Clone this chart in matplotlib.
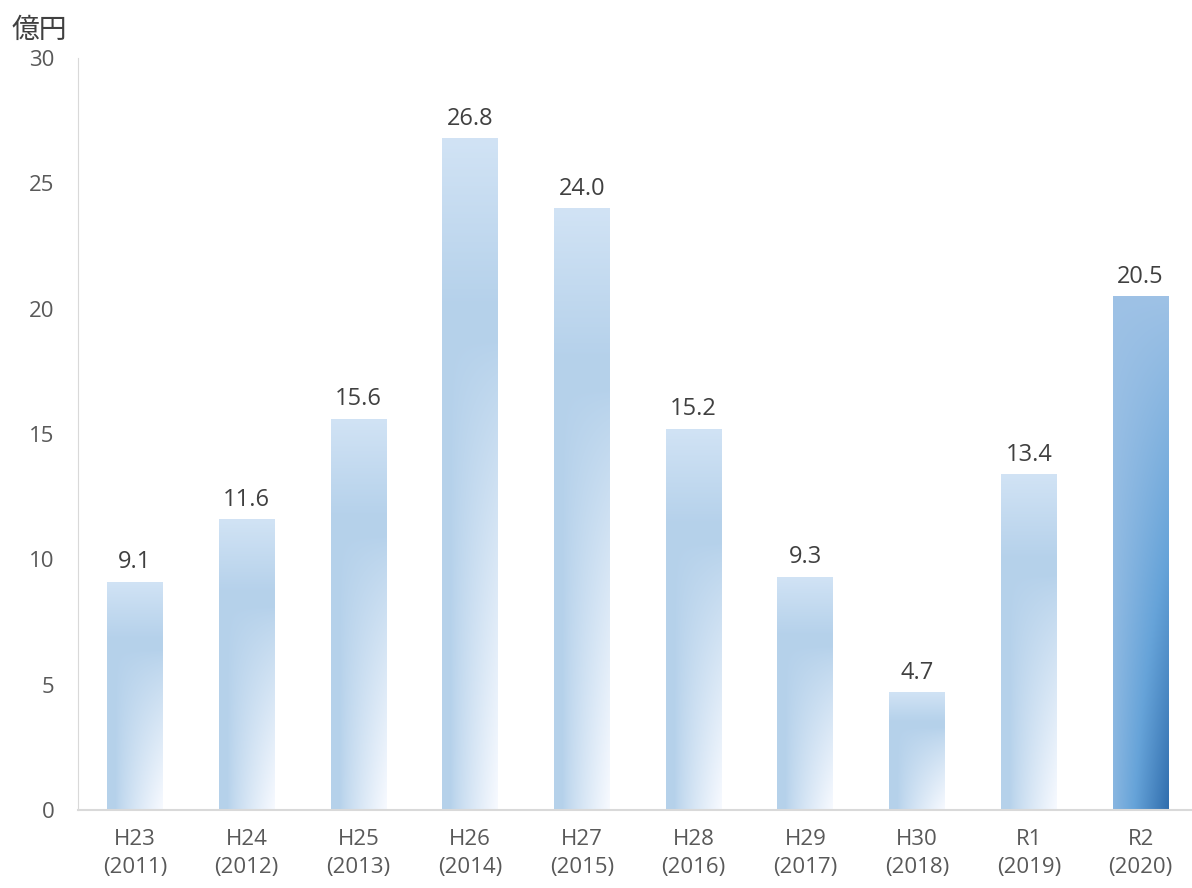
import numpy as np
import matplotlib
matplotlib.use('Agg')
import matplotlib.pyplot as plt
from matplotlib.patches import Rectangle

plt.rcParams['font.family'] = ['Open Sans', 'Noto Sans CJK JP', 'DejaVu Sans']

categories = ['H23\n(2011)', 'H24\n(2012)', 'H25\n(2013)', 'H26\n(2014)', 'H27\n(2015)',
              'H28\n(2016)', 'H29\n(2017)', 'H30\n(2018)', 'R1\n(2019)', 'R2\n(2020)']
values = [9.1, 11.6, 15.6, 26.8, 24.0, 15.2, 9.3, 4.7, 13.4, 20.5]
labels = ['9.1', '11.6', '15.6', '26.8', '24.0', '15.2', '9.3', '4.7', '13.4', '20.5']


def light_gradient(n=200, m=60):
    v = np.linspace(0, 1, n)[:, None]
    u = np.linspace(0, 1, m)[None, :]
    top = np.array([0.82, 0.89, 0.96])
    mid = np.array([0.71, 0.82, 0.92])
    white = np.array([0.97, 0.98, 1.0])
    a = np.clip(v / 0.25, 0, 1)[..., None]
    col = top * (1 - a) + mid * a
    s = (np.clip((v - 0.3) / 0.7, 0, 1) * np.clip((u - 0.15) / 0.85, 0, 1))[..., None]
    s = s ** 0.8
    col = col * (1 - s) + white * s
    return col


def dark_gradient(n=200, m=60):
    v = np.linspace(0, 1, n)[:, None]
    u = np.linspace(0, 1, m)[None, :]
    light = np.array([0.62, 0.76, 0.90])
    mid = np.array([0.40, 0.64, 0.85])
    dark = np.array([0.19, 0.43, 0.68])
    t = np.clip(v * (0.2 + 0.8 * u), 0, 1)[..., None]
    col = np.where(t < 0.5, light + (mid - light) * (t / 0.5),
                   mid + (dark - mid) * ((t - 0.5) / 0.5))
    return np.clip(col, 0, 1)


fig = plt.figure(figsize=(11.92, 8.88), dpi=100)
ax = fig.add_axes([78 / 1192, 1 - 810 / 888, 1 - 78 / 1192, (810 - 58) / 888])

x = np.arange(len(values))
width = 0.5
bars = ax.bar(x, values, width=width, color='none', edgecolor='none')
for i, b in enumerate(bars):
    img = dark_gradient() if i == len(values) - 1 else light_gradient()
    x0, h = b.get_x(), b.get_height()
    im = ax.imshow(img, extent=[x0, x0 + width, 0, h], aspect='auto',
                   interpolation='bilinear', zorder=2)
    rect = Rectangle((x0, 0), width, h, transform=ax.transData, facecolor='none')
    im.set_clip_path(rect)
    ax.text(x[i], h + 0.3, labels[i], ha='center', va='bottom',
            fontsize=17, color='#404040')

ax.set_xlim(-0.51, 9.46)
ax.set_ylim(0, 30)
ax.set_yticks(range(0, 31, 5))
ax.set_xticks(x)
ax.set_xticklabels(categories, fontsize=16, color='#595959', linespacing=1.4)
ax.tick_params(axis='y', labelsize=16, labelcolor='#595959', length=0, pad=17)
ax.tick_params(axis='x', length=0, pad=14)
for s in ['top', 'right']:
    ax.spines[s].set_visible(False)
ax.spines['left'].set_color('#d9d9d9')
ax.spines['bottom'].set_color('#d9d9d9')
ax.spines['bottom'].set_linewidth(1.5)

fig.text(12 / 1192, 1 - 31 / 888, '億円', fontsize=20, color='#404040', va='center')

fig.savefig('out.png', dpi=100)
